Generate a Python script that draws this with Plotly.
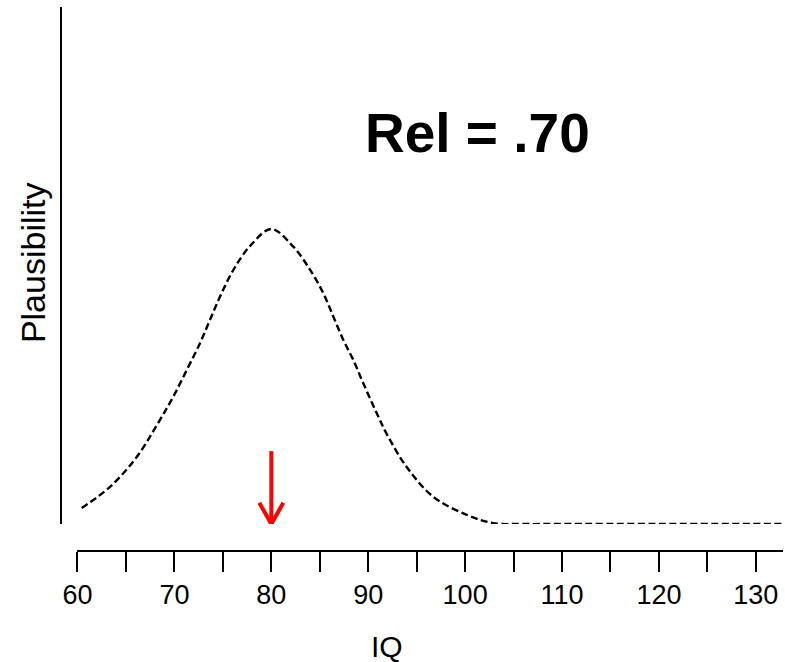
import plotly.graph_objects as go

# Curve data (IQ vs relative plausibility)
iq = [60.43, 63.35, 66.11, 68.51, 69.89, 71.27, 72.64, 73.67, 74.71, 76.08, 77.80, 80.0,
      82.27, 83.99, 85.37, 86.40, 87.43, 88.46, 89.49, 91.04, 91.91, 93.97, 96.72,
      100.17, 102.91, 106.0, 110.0, 120.0, 132.8]
plaus = [0.054, 0.126, 0.227, 0.353, 0.432, 0.522, 0.613, 0.692, 0.771, 0.861, 0.942, 1.0,
         0.940, 0.862, 0.782, 0.703, 0.624, 0.556, 0.477, 0.364, 0.305, 0.193, 0.092,
         0.031, 0.003, 0.0, 0.0, 0.0, 0.0]

# Observed score arrow
arrow_x = 80
arrow_top = 0.247
arrow_tip = 0.0
head_dx = 1.24
head_dy = 0.072

tick_vals = list(range(60, 135, 5))
tick_text = [str(v) if v % 10 == 0 else "" for v in tick_vals]

FONT = "Liberation Sans, Arial, Helvetica, sans-serif"

fig = go.Figure()
fig.add_trace(go.Scatter(
    x=iq, y=plaus, mode="lines",
    line=dict(color="black", width=2.4, dash="7px,3.5px", shape="spline", smoothing=1.0),
    hoverinfo="skip", showlegend=False))

fig.add_trace(go.Scatter(
    x=[arrow_x, arrow_x, None, arrow_x - head_dx, arrow_x, arrow_x + head_dx],
    y=[arrow_top, arrow_tip, None, arrow_tip + head_dy, arrow_tip, arrow_tip + head_dy],
    mode="lines", line=dict(color="#ff0000", width=4),
    hoverinfo="skip", showlegend=False))

fig.update_layout(
    width=785, height=662,
    margin=dict(l=61, r=2, t=7, b=111),
    paper_bgcolor="white", plot_bgcolor="white",
    font=dict(family=FONT, color="black"),
    xaxis=dict(
        domain=[0.02285, 1], range=[60, 132.8], anchor="free", position=0,
        showline=True, linecolor="black", linewidth=2,
        ticks="outside", ticklen=20, tickwidth=2, tickcolor="black",
        tickvals=tick_vals, ticktext=tick_text,
        tickfont=dict(size=27, family=FONT, color="black"),
        showgrid=False, zeroline=False),
    yaxis=dict(
        domain=[0.04963, 1], range=[0, 1.7525], anchor="free", position=0,
        showline=True, linecolor="black", linewidth=2,
        showticklabels=False, ticks="", showgrid=False, zeroline=False),
    annotations=[
        dict(text="<b>Rel = .70</b>", x=0.5769, y=0.7685, xref="paper", yref="paper",
             xanchor="center", yanchor="middle", showarrow=False,
             font=dict(size=55, family=FONT, color="black")),
        dict(text="Plausibility", x=-0.0388, y=0.531, xref="paper", yref="paper",
             xanchor="center", yanchor="middle", textangle=-90, showarrow=False,
             font=dict(size=34, family=FONT, color="black")),
        dict(text="IQ", x=0.451, y=-0.1756, xref="paper", yref="paper",
             xanchor="center", yanchor="middle", showarrow=False,
             font=dict(size=30, family=FONT, color="black")),
    ],
)

fig.write_html("out.html")
